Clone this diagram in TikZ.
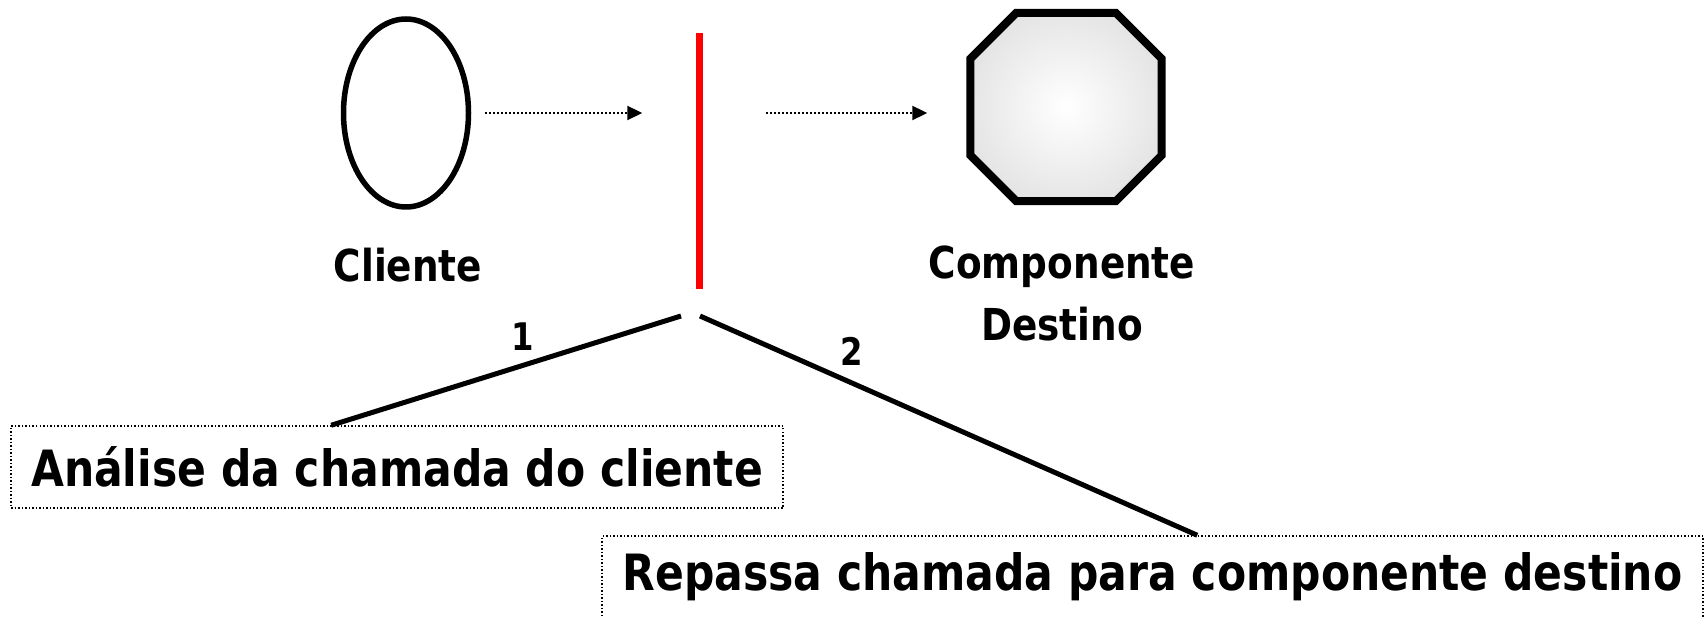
\documentclass[tikz,border=0pt]{standalone}
\usepackage{fontspec}
\setmainfont{DejaVu Sans}[FakeStretch=0.85]
\usetikzlibrary{shapes.geometric,arrows.meta,positioning,calc}

\tikzset{
  link/.style={line width=5pt},
  call/.style={dotted, line width=2pt, -{Triangle[length=15pt,width=14pt]}},
  task/.style={draw, dotted, line width=1.5pt, minimum width=772pt, minimum height=82pt, inner sep=0pt, font=\fontsize{50}{60}\selectfont\bfseries},
  lbl/.style={font=\fontsize{44}{62}\selectfont\bfseries, align=center},
  num/.style={font=\fontsize{38}{44}\selectfont\bfseries}
}

\begin{document}
\begin{tikzpicture}[x=1pt,y=-1pt]
  \useasboundingbox (0,0) rectangle (1708,617);
  \clip (0,0) rectangle (1708,617);

  % client, interceptor and target
  \node[ellipse, draw, line width=5.5pt, minimum width=125pt, minimum height=188pt] (cli) at (406,113) {};
  \node[fill=red, minimum width=7pt, minimum height=256pt, inner sep=0pt] (proxy) at (699,161) {};
  \node[minimum width=191pt, minimum height=188pt, inner sep=0pt] (dest) at (1066,107) {};
  \draw[line width=8pt, shading=radial, inner color=white, outer color=black!10]
    ([xshift=46pt]dest.north west) -- ([xshift=-46pt]dest.north east)
    -- ([yshift=-46pt]dest.north east) -- ([yshift=46pt]dest.south east)
    -- ([xshift=-46pt]dest.south east) -- ([xshift=46pt]dest.south west)
    -- ([yshift=46pt]dest.south west) -- ([yshift=-46pt]dest.north west) -- cycle;

  \node[lbl] (clitxt) at (408,265) {Cliente};
  \node[lbl] (desttxt) at (1062,293) {Componente\\Destino};

  \draw[call, shorten <=14pt, shorten >=53pt] (cli.east) -- (cli.east -| proxy.west);
  \draw[call, shorten <=63pt, shorten >=43pt] (cli.east -| proxy.east) -- (cli.east -| dest.west);

  % steps
  \node[task] (step1) at (397,467) {Análise da chamada do cliente};
  \node[task, minimum width=1101pt] (step2) at (1152.5,577) {Repassa chamada para componente destino};

  \coordinate (fork1) at (681,316);
  \coordinate (fork2) at (700,316);
  \draw[link] (fork1) -- ([xshift=321pt]step1.north west);
  \draw[link] (fork2) -- ([xshift=596pt]step2.north west);

  \node[num] (n1) at (523,337) {1};
  \node[num] (n2) at (852,351) {2};
\end{tikzpicture}
\end{document}
